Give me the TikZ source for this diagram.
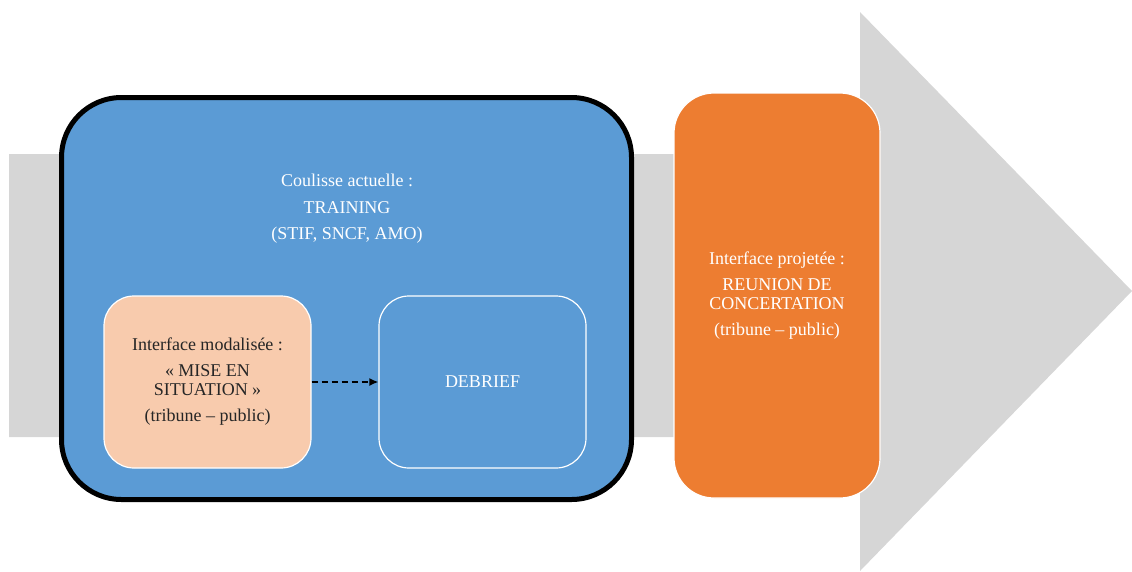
\documentclass[tikz,border=0pt]{standalone}
\usepackage{fontspec}
\setmainfont{Liberation Serif}
\usepackage{xcolor}
\usetikzlibrary{arrows.meta,positioning}
\definecolor{arrowgray}{HTML}{D6D6D6}
\definecolor{coulisseblue}{HTML}{5B9BD5}
\definecolor{interfacepeach}{HTML}{F8CBAD}
\definecolor{projeteeorange}{HTML}{ED7D31}

\begin{document}
\begin{tikzpicture}[x=1pt,y=-1pt,
    txt/.style={align=center, font=\fontsize{18}{19}\selectfont},
    innerbox/.style={draw=white, line width=1.2pt, rounded corners=30pt,
        minimum width=207pt, minimum height=172pt, txt}]
        \useasboundingbox (0,0) rectangle (1132,571);
        % Gray arrow
        \fill[arrowgray] (9,154) -- (860,154) -- (860,12) -- (1132,291)
            -- (860,571) -- (860,437) -- (9,437) -- cycle;
        % Coulisse (training)
        \node[draw=black, line width=5pt, fill=coulisseblue, rounded corners=60pt,
            minimum width=570pt, minimum height=402pt] (training) at (346.5,298.5) {};
        \node[txt, text=white] (traininglabel) at (347,209)
            {Coulisse actuelle :\\[7.5pt]TRAINING\\[7.5pt](STIF, SNCF, AMO)};
        % Mise en situation
        \node[innerbox, fill=interfacepeach, text=black!85] (mise) at (207.5,382)
            {Interface modalisée :\\[7pt]« MISE EN\\SITUATION »\\[7pt](tribune – public)};
        % Debrief
        \node[innerbox, text=white] (debrief) at (482.5,382) {DEBRIEF};
        \draw[line width=1.5pt, dash pattern=on 6pt off 4pt,
            -{Latex[length=9pt,width=8pt]}] (mise.east) -- (debrief.west);
        % Reunion de concertation
        \node[draw=white, line width=1.2pt, fill=projeteeorange, rounded corners=40pt,
            minimum width=206pt, minimum height=405pt, txt, text=white] (reunion) at (777,295.5)
            {Interface projetée :\\[7pt]REUNION DE\\CONCERTATION\\[7pt](tribune – public)};
    \end{tikzpicture}
\end{document}
